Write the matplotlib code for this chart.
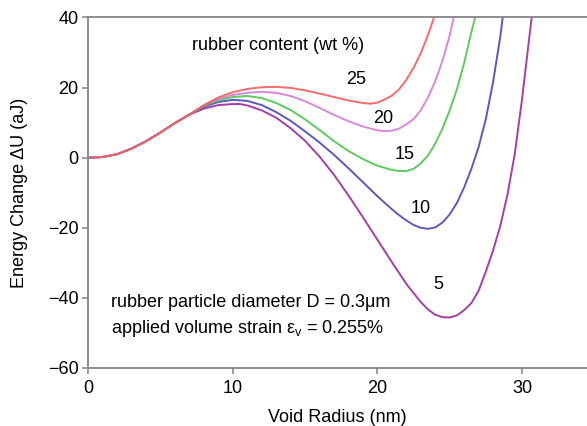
import matplotlib
matplotlib.use("Agg")
import matplotlib.pyplot as plt

plt.rcParams['font.family'] = ['Liberation Sans', 'DejaVu Sans']
plt.rcParams['mathtext.fontset'] = 'custom'
plt.rcParams['mathtext.rm'] = 'Liberation Sans'
plt.rcParams['mathtext.it'] = 'Liberation Sans:italic'

# Shared rising branch (identical for every rubber content)
r_common = [0, 1, 2, 3, 4, 5, 6, 7]
u_common = [0.0, 0.2, 1.0, 2.6, 4.7, 7.2, 9.9, 12.3]

# Per-content branches, void radius (nm) -> energy change (aJ)
r_25 = [8, 9, 10, 11, 12, 13, 14, 15, 16, 17, 18, 19, 19.5, 20, 20.5, 21, 21.5,
        22, 22.5, 23, 23.5, 24]
u_25 = [15.0, 17.2, 18.7, 19.6, 20.1, 20.2, 19.9, 19.2, 18.3, 17.3, 16.3, 15.6,
        15.4, 15.7, 16.6, 17.7, 19.5, 22.2, 25.6, 29.8, 35.0, 41.0]

r_20 = [8, 9, 10, 11, 12, 13, 14, 15, 16, 17, 18, 19, 20, 20.5, 21, 21.5, 22,
        22.5, 23, 23.5, 24, 24.5, 25, 25.3]
u_20 = [14.9, 16.8, 17.9, 18.5, 18.8, 18.5, 17.6, 16.1, 14.2, 12.2, 10.4, 8.9,
        7.8, 7.6, 7.7, 8.3, 9.5, 11.0, 13.5, 17.2, 21.8, 27.6, 34.8, 40.5]

r_15 = [8, 9, 10, 11, 12, 13, 14, 15, 16, 17, 18, 19, 20, 21, 21.5, 22, 22.5,
        23, 23.5, 24, 24.5, 25, 25.5, 26, 26.5, 26.85]
u_15 = [14.7, 16.4, 17.3, 17.6, 17.0, 15.6, 13.6, 10.9, 7.9, 4.7, 1.9, -0.4,
        -2.3, -3.5, -3.8, -3.8, -3.2, -1.6, 0.6, 4.0, 8.3, 13.5, 19.5, 27.0,
        35.8, 41.5]

r_10 = [8, 9, 10, 11, 12, 13, 14, 15, 16, 17, 18, 19, 20, 21, 21.5, 22, 22.5,
        23, 23.5, 24, 24.5, 25, 25.5, 26, 26.5, 27, 27.5, 28, 28.5, 28.7]
u_10 = [14.5, 15.9, 16.5, 16.2, 15.0, 13.0, 10.5, 7.5, 4.3, 0.8, -3.0, -7.0,
        -11.0, -14.7, -16.4, -17.9, -19.2, -20.0, -20.3, -19.9, -18.5, -16.2,
        -12.9, -8.5, -3.2, 3.0, 11.0, 21.5, 34.5, 41.0]

r_5 = [8, 9, 10, 10.5, 11, 12, 13, 14, 15, 16, 17, 18, 19, 20, 21, 22, 23, 23.5,
       24, 24.5, 25, 25.5, 26, 26.5, 27, 27.5, 28, 28.5, 29, 29.5, 30, 30.5, 30.7]
u_5 = [14.0, 15.0, 15.3, 15.3, 14.9, 13.5, 11.4, 8.4, 4.8, 0.3, -4.9, -10.8,
       -17.0, -23.4, -29.8, -36.0, -41.2, -43.3, -44.8, -45.5, -45.6, -45.0,
       -43.5, -41.5, -38.0, -32.5, -26.5, -19.5, -10.5, 1.0, 16.5, 34.0, 41.0]

contents = ['5', '10', '15', '20', '25']
radii = [r_5, r_10, r_15, r_20, r_25]
energies = [u_5, u_10, u_15, u_20, u_25]
colors = ['#9b2a9b', '#4747b8', '#4cc64c', '#d47ad6', '#f25c5c']

label_pos = {'25': (18.55, 22.2), '20': (20.4, 11.3), '15': (21.9, 0.8),
             '10': (23.0, -14.4), '5': (24.2, -36.3)}

fs = 13

fig = plt.figure(figsize=(5.87, 4.26), dpi=100)
ax = fig.add_axes([0.1504, 0.1362, 0.8496, 0.8228])

for name, r, u, c in zip(contents, radii, energies, colors):
    ax.plot(r_common + r, u_common + u, color=c, lw=1.4, alpha=0.9,
            solid_capstyle='round', solid_joinstyle='round')
    lx, ly = label_pos[name]
    ax.text(lx, ly, name, fontsize=fs, ha='center', va='center')

ax.text(7.2, 32.0, 'rubber content (wt %)', fontsize=fs, ha='left', va='center')
ax.text(1.6, -41.2, 'rubber particle diameter D = 0.3μm', fontsize=fs,
        ha='left', va='center')
ax.text(1.6, -48.6, r'applied volume strain ε$_\mathrm{v}$ = 0.255%',
        fontsize=fs, ha='left', va='center')

ax.set_xlim(0, 34.5)
ax.set_ylim(-60, 40)
ax.set_xticks([0, 10, 20, 30])
ax.set_yticks([-60, -40, -20, 0, 20, 40])
ax.set_yticklabels(['\u221260', '\u221240', '\u221220', '0', '20', '40'])

spine_col = '#8c8c8c'
for side in ['left', 'bottom', 'top']:
    ax.spines[side].set_color(spine_col)
    ax.spines[side].set_linewidth(1.4)
ax.spines['right'].set_visible(False)
ax.tick_params(axis='both', direction='out', length=4, width=1.2,
               color=spine_col, labelsize=fs, pad=3)
ax.tick_params(axis='x', top=False, pad=5)

ax.set_xlabel('Void Radius (nm)', fontsize=fs, labelpad=8)
ax.set_ylabel('Energy Change ΔU (aJ)', fontsize=fs, labelpad=14)

fig.savefig('out.png', dpi=100)
